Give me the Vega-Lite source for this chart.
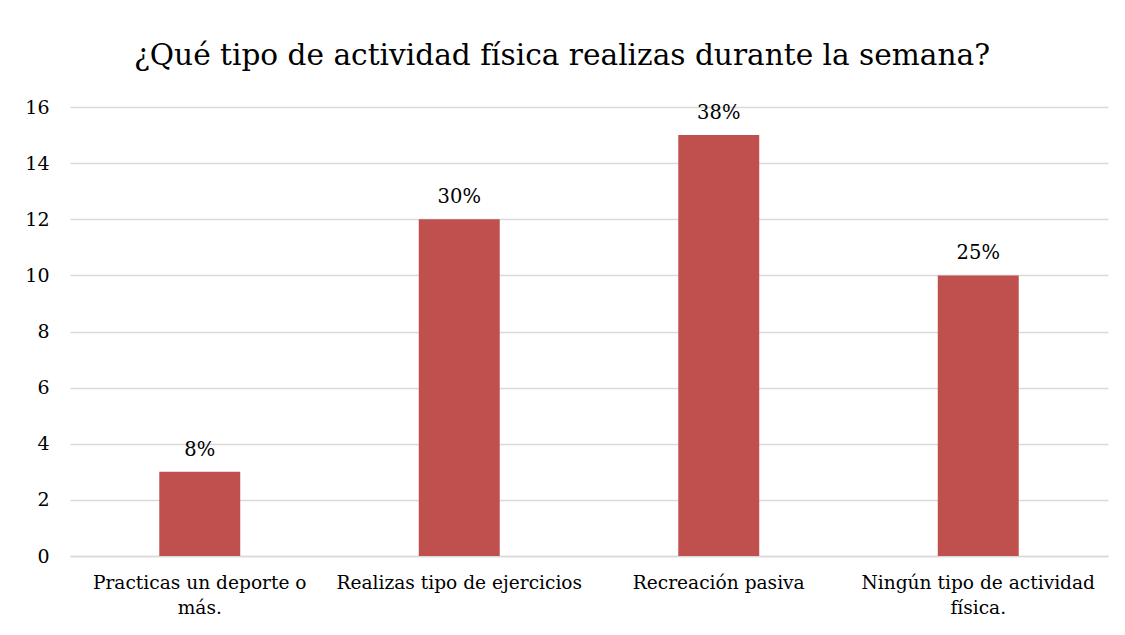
{
  "$schema": "https://vega.github.io/schema/vega-lite/v6.json",
  "autosize": "none",
  "width": 1038,
  "height": 449,
  "padding": {"left": 70, "top": 107, "right": 17, "bottom": 79},
  "background": "white",
  "title": {
    "text": "¿Qué tipo de actividad física realizas durante la semana?",
    "font": "DejaVu Serif",
    "fontSize": 29.6,
    "fontWeight": "normal",
    "color": "#000000",
    "anchor": "middle",
    "dx": -27,
    "offset": 26
  },
  "config": {
    "view": {"stroke": null}
  },
  "data": {
    "values": [
      {"categoria": "Practicas un deporte o más.", "valor": 3, "etiqueta": "8%"},
      {"categoria": "Realizas tipo de ejercicios", "valor": 12, "etiqueta": "30%"},
      {"categoria": "Recreación pasiva", "valor": 15, "etiqueta": "38%"},
      {"categoria": "Ningún tipo de actividad física.", "valor": 10, "etiqueta": "25%"}
    ]
  },
  "encoding": {
    "x": {
      "field": "categoria",
      "type": "nominal",
      "sort": null,
      "scale": {"paddingInner": 0.688, "paddingOuter": 0.344},
      "axis": {
        "title": null,
        "labelAngle": 0,
        "labelFont": "DejaVu Serif",
        "labelFontSize": 18.6,
        "labelColor": "#000000",
        "labelLimit": 400,
        "labelPadding": 17,
        "labelLineHeight": 25,
        "ticks": false,
        "domainColor": "#d9d9d9",
        "domainWidth": 1.5,
        "labelExpr": "datum.value == 'Practicas un deporte o más.' ? ['Practicas un deporte o', 'más.'] : datum.value == 'Ningún tipo de actividad física.' ? ['Ningún tipo de actividad', 'física.'] : datum.value"
      }
    },
    "y": {
      "field": "valor",
      "type": "quantitative",
      "scale": {"domain": [0, 16], "nice": false},
      "axis": {
        "title": null,
        "values": [0, 2, 4, 6, 8, 10, 12, 14, 16],
        "domain": false,
        "ticks": false,
        "labelFont": "DejaVu Serif",
        "labelFontSize": 19,
        "labelColor": "#000000",
        "labelPadding": 21,
        "gridColor": "#d9d9d9",
        "gridWidth": 1.5
      }
    }
  },
  "layer": [
    {"mark": {"type": "bar", "color": "#C0504D"}},
    {
      "mark": {"type": "text", "font": "DejaVu Serif", "fontSize": 19.5, "color": "#000000", "baseline": "alphabetic", "dy": -16},
      "encoding": {"text": {"field": "etiqueta"}}
    }
  ]
}
